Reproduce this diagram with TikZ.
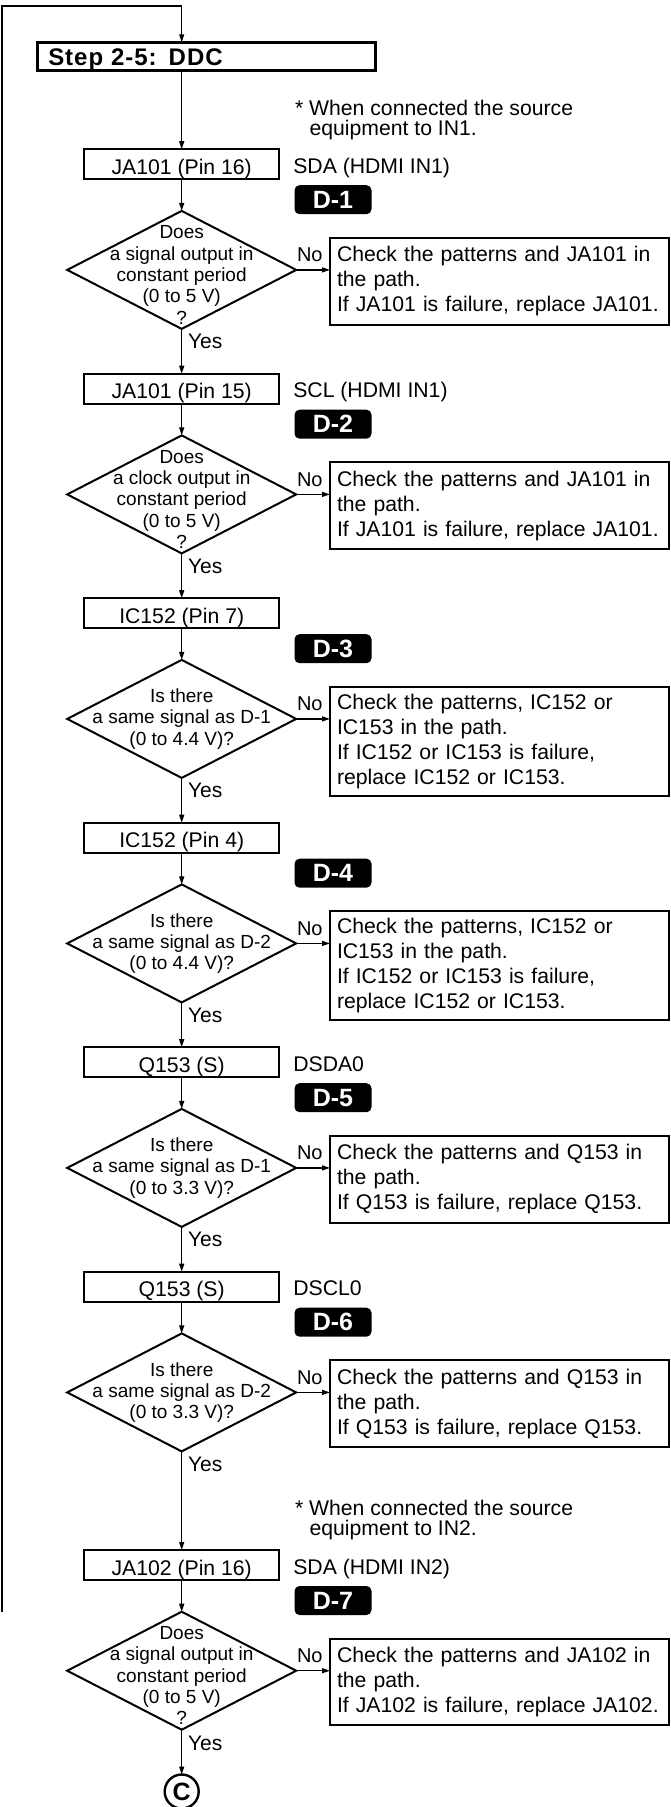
\documentclass[tikz,border=0pt]{standalone}
\usepackage{fontspec}
\setmainfont{Liberation Sans}
\newfontfamily\stepfont[LetterSpace=4]{Liberation Sans}
\usetikzlibrary{arrows.meta,shapes.geometric}
\tikzset{
  every node/.style={inner sep=0pt, outer sep=0pt},
  conn/.style={line width=1.2pt, -{Triangle[length=8pt,width=5pt]}},
  stepbox/.style={draw, line width=2.6pt, minimum width=338pt, minimum height=28pt,
    text width=316pt, align=left, text height=23.4pt, text depth=4.6pt,
    font=\stepfont\bfseries\fontsize{24}{27}\selectfont},
  pinbox/.style={draw, line width=2pt, minimum width=195.3pt, text height=25pt, text depth=5pt,
    font=\fontsize{21.2}{25}\selectfont},
  side/.style={anchor=base west, font=\fontsize{21.2}{25}\selectfont},
  note/.style={anchor=base west, font=\fontsize{21.2}{25}\selectfont},
  badge/.style={fill=black, rounded corners=5pt, minimum width=77pt, minimum height=29pt,
    text=white, font=\bfseries\fontsize{25}{28}\selectfont},
  dia/.style={shape=diamond, draw, line width=2pt, minimum width=229pt, minimum height=118pt},
  diatext/.style={align=center, font=\fontsize{19}{21.3}\selectfont},
  nobox/.style={draw, line width=2pt, anchor=north west, inner xsep=7pt, text width=324.5pt,
    align=left, font=\fontsize{21.2}{25}\selectfont},
  nolbl/.style={anchor=base west, font=\fontsize{20}{24}\selectfont},
  yeslbl/.style={anchor=base west, font=\fontsize{21}{24}\selectfont},
  endc/.style={shape=circle, draw, line width=2.4pt, minimum size=34pt,
    font=\bfseries\fontsize{25}{28}\selectfont},
}
\begin{document}
\begin{tikzpicture}[x=1pt,y=-1pt]
\useasboundingbox (0,0) rectangle (670,1807);

% title
\node[stepbox] (step) at (206.3,56.3) {Step 2-5: DDC};

% note IN1
\node[note] (m1a) at (295,115) {* When connected the source};
\node[note] (m1b) at (309.5,135) {equipment to IN1.};

% unit 1
\node[pinbox] (b1) at (181.7,164.2) {JA101 (Pin 16)};
\node[side] (s1) at (293.3,173.2) {SDA (HDMI IN1)};
\node[badge] (g1) at (333,199.7) {D-1};
\node[dia] (d1) at (181.7,269.9) {};
\node[diatext] (t1) at (181.7,274.9) {Does\\a signal output in\\constant period\\(0 to 5 V)\\?};
\node[nobox, minimum height=86.7pt] (n1) at (330,237.9) {Check the patterns and JA101 in\\the path.\\If JA101 is failure, replace JA101.};
\node[nolbl] (o1) at (297,261.9) {No};
\node[yeslbl] (y1) at (188,348.9) {Yes};

% unit 2
\node[pinbox] (b2) at (181.7,388.7) {JA101 (Pin 15)};
\node[side] (s2) at (293.3,397.7) {SCL (HDMI IN1)};
\node[badge] (g2) at (333,424.2) {D-2};
\node[dia] (d2) at (181.7,494.4) {};
\node[diatext] (t2) at (181.7,499.4) {Does\\a clock output in\\constant period\\(0 to 5 V)\\?};
\node[nobox, minimum height=86.7pt] (n2) at (330,462.4) {Check the patterns and JA101 in\\the path.\\If JA101 is failure, replace JA101.};
\node[nolbl] (o2) at (297,486.4) {No};
\node[yeslbl] (y2) at (188,573.4) {Yes};

% unit 3
\node[pinbox] (b3) at (181.7,613.2) {IC152 (Pin 7)};
\node[badge] (g3) at (333,648.7) {D-3};
\node[dia] (d3) at (181.7,718.9) {};
\node[diatext] (t3) at (181.7,718.9) {Is there\\a same signal as D-1\\(0 to 4.4 V)?};
\node[nobox, minimum height=108.7pt] (n3) at (330,686.9) {Check the patterns, IC152 or\\IC153 in the path.\\If IC152 or IC153 is failure,\\replace IC152 or IC153.};
\node[nolbl] (o3) at (297,710.9) {No};
\node[yeslbl] (y3) at (188,797.9) {Yes};

% unit 4
\node[pinbox] (b4) at (181.7,837.7) {IC152 (Pin 4)};
\node[badge] (g4) at (333,873.2) {D-4};
\node[dia] (d4) at (181.7,943.4) {};
\node[diatext] (t4) at (181.7,943.4) {Is there\\a same signal as D-2\\(0 to 4.4 V)?};
\node[nobox, minimum height=108.7pt] (n4) at (330,911.4) {Check the patterns, IC152 or\\IC153 in the path.\\If IC152 or IC153 is failure,\\replace IC152 or IC153.};
\node[nolbl] (o4) at (297,935.4) {No};
\node[yeslbl] (y4) at (188,1022.4) {Yes};

% unit 5
\node[pinbox] (b5) at (181.7,1062.2) {Q153 (S)};
\node[side] (s5) at (293.3,1071.2) {DSDA0};
\node[badge] (g5) at (333,1097.7) {D-5};
\node[dia] (d5) at (181.7,1167.9) {};
\node[diatext] (t5) at (181.7,1167.9) {Is there\\a same signal as D-1\\(0 to 3.3 V)?};
\node[nobox, minimum height=86.7pt] (n5) at (330,1135.9) {Check the patterns and Q153 in\\the path.\\If Q153 is failure, replace Q153.};
\node[nolbl] (o5) at (297,1159.9) {No};
\node[yeslbl] (y5) at (188,1246.9) {Yes};

% unit 6
\node[pinbox] (b6) at (181.7,1286.7) {Q153 (S)};
\node[side] (s6) at (293.3,1295.7) {DSCL0};
\node[badge] (g6) at (333,1322.2) {D-6};
\node[dia] (d6) at (181.7,1392.4) {};
\node[diatext] (t6) at (181.7,1392.4) {Is there\\a same signal as D-2\\(0 to 3.3 V)?};
\node[nobox, minimum height=86.7pt] (n6) at (330,1360.4) {Check the patterns and Q153 in\\the path.\\If Q153 is failure, replace Q153.};
\node[nolbl] (o6) at (297,1384.4) {No};
\node[yeslbl] (y6) at (188,1471.4) {Yes};

% note IN2
\node[note] (m2a) at (295,1515) {* When connected the source};
\node[note] (m2b) at (309.5,1535) {equipment to IN2.};

% unit 7
\node[pinbox] (b7) at (181.7,1565) {JA102 (Pin 16)};
\node[side] (s7) at (293.3,1574) {SDA (HDMI IN2)};
\node[badge] (g7) at (333,1600.5) {D-7};
\node[dia] (d7) at (181.7,1670.7) {};
\node[diatext] (t7) at (181.7,1675.7) {Does\\a signal output in\\constant period\\(0 to 5 V)\\?};
\node[nobox, minimum height=86.7pt] (n7) at (330,1638.7) {Check the patterns and JA102 in\\the path.\\If JA102 is failure, replace JA102.};
\node[nolbl] (o7) at (297,1662.7) {No};
\node[yeslbl] (y7) at (188,1750.7) {Yes};

\node[endc] (c) at (181.7,1791.5) {C};

% loop from left
\coordinate (lb) at (2,1612);
\coordinate (lt) at (2,6);
\coordinate (lr) at (181.7,6);
\draw[conn] (lb) -- (lt) -- (lr) -- (lr |- step.north);

% main flow
\draw[conn] (b1.north |- step.south) -- (b1.north);
\draw[conn] (b1.south) -- (d1.north);
\draw[conn] (d1.south) -- (b2.north);
\draw[conn] (b2.south) -- (d2.north);
\draw[conn] (d2.south) -- (b3.north);
\draw[conn] (b3.south) -- (d3.north);
\draw[conn] (d3.south) -- (b4.north);
\draw[conn] (b4.south) -- (d4.north);
\draw[conn] (d4.south) -- (b5.north);
\draw[conn] (b5.south) -- (d5.north);
\draw[conn] (d5.south) -- (b6.north);
\draw[conn] (b6.south) -- (d6.north);
\draw[conn] (d6.south) -- (b7.north);
\draw[conn] (b7.south) -- (d7.north);
\draw[conn] (d7.south) -- (c.north);

% no branches
\draw[conn] (d1.east) -- (d1.east -| n1.west);
\draw[conn] (d2.east) -- (d2.east -| n2.west);
\draw[conn] (d3.east) -- (d3.east -| n3.west);
\draw[conn] (d4.east) -- (d4.east -| n4.west);
\draw[conn] (d5.east) -- (d5.east -| n5.west);
\draw[conn] (d6.east) -- (d6.east -| n6.west);
\draw[conn] (d7.east) -- (d7.east -| n7.west);
\end{tikzpicture}
\end{document}
